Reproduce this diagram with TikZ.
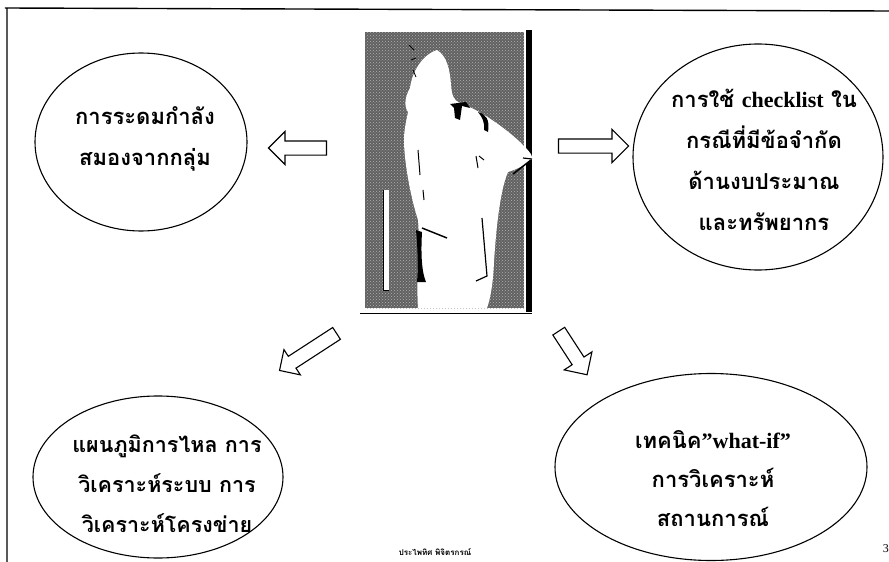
\documentclass[tikz,border=0pt]{standalone}
\usepackage{fontspec}
\setmainfont{Liberation Serif}
\newfontfamily\thaifont[Script=Thai]{Loma}
\newfontfamily\latfont{Liberation Serif}
\usetikzlibrary{shapes.geometric,shapes.arrows,patterns}
\newcommand{\lw}[1]{{\latfont\bfseries #1}}
\begin{document}
\begin{tikzpicture}[x=1pt,y=-1pt,
  bubble/.style={ellipse,draw=black,line width=1.1pt,inner sep=0pt},
  bubbletext/.style={font=\thaifont\bfseries\fontsize{22}{41}\selectfont,align=center,inner sep=0pt},
  hollowarrow/.style={single arrow,draw=black,line width=1.1pt,fill=white,inner sep=0pt,
    text height=6.5pt,text depth=6.5pt,text width=0pt,
    minimum width=32pt,single arrow head extend=9.5pt,single arrow tip angle=90},
  framerule/.style={line width=1.4pt}]
\useasboundingbox (0,0) rectangle (889,562);

% page frame
\coordinate (ftl) at (5,8);
\coordinate (ftr) at (889,11);
\coordinate (fbl) at (7,562);
\draw[framerule] (ftr) -- (ftl) -- (7,8) -- (fbl);

% picture: stippled panel with a standing figure
\fill[black!62] (365,32) rectangle (524,308);
\fill[pattern=crosshatch dots,pattern color=white!70!black] (365,32) rectangle (524,308);
\fill[black] (526,30) rectangle (532,312);
\draw[line width=1pt] (360,313) -- (532,313);
\fill[white] (437,50) .. controls (447,56) and (450,70) .. (451,85)
  .. controls (452,95) and (453,100) .. (460,103)
  .. controls (480,110) and (505,128) .. (520,142)
  .. controls (528,150) and (533,155) .. (532,159)
  .. controls (526,165) and (515,170) .. (508,172)
  .. controls (500,190) and (496,230) .. (494,262)
  .. controls (493,285) and (490,300) .. (487,308)
  -- (418,308)
  .. controls (416,280) and (420,240) .. (418,220)
  .. controls (410,195) and (404,160) .. (404,140)
  .. controls (404,128) and (407,118) .. (408,112)
  .. controls (403,105) and (406,95) .. (410,88)
  .. controls (412,72) and (422,55) .. (437,50) -- cycle;
% figure details
\fill[black] (450,104) -- (466,102) -- (470,108) -- (462,106) -- (460,120) -- (455,118) -- (454,108) -- cycle;
\fill[black] (478,112) .. controls (486,114) and (490,120) .. (488,132) -- (484,130) .. controls (485,122) and (482,117) .. (478,112) -- cycle;
\draw[line width=1.5pt] (513,174) -- (531,160);
\draw[line width=1.2pt] (523,158) -- (532,159);
\draw[line width=1pt] (476,156) -- (478,168);
\draw[line width=1pt] (479,156) -- (484,160);
\fill[black] (416,230) .. controls (418,250) and (418,270) .. (417,282) -- (426,282) .. controls (421,270) and (421,250) .. (422,232) -- cycle;
\draw[line width=1.4pt] (422,228) -- (447,238);
\draw[line width=1.2pt] (482,218) -- (487,276) -- (476,281);
\draw[line width=1pt] (418,150) -- (420,175);
\draw[line width=1pt] (423,190) -- (424,200);
\fill[white] (383,190) rectangle (389,290);
\draw[line width=0.8pt] (383,190) -- (383,290) -- (389,290);
\draw[line width=0.8pt] (409,45) -- (414,50);
\draw[line width=0.8pt] (411,60) -- (416,58);
\draw[line width=0.8pt] (413,70) -- (416,77);

% idea bubbles
\node[bubble,minimum width=212pt,minimum height=178pt] (brain) at (141,142) {};
\node[bubble,minimum width=250pt,minimum height=226pt] (check) at (758,157) {};
\node[bubble,minimum width=250pt,minimum height=162pt] (flow) at (158,477) {};
\node[bubble,minimum width=312pt,minimum height=187pt] (whatif) at (711,467) {};

\node[bubbletext] (brainT) at (145,139) {การระดมกำลัง\\สมองจากกลุ่ม};
\node[bubbletext] (checkT) at (764,160) {การใช้ \lw{checklist} ใน\\กรณีที่มีข้อจำกัด\\ด้านงบประมาณ\\และทรัพยากร};
\node[bubbletext,font=\thaifont\bfseries\fontsize{21.5}{40}\selectfont] (flowT) at (167,484) {แผนภูมิการไหล การ\\วิเคราะห์ระบบ การ\\วิเคราะห์โครงข่าย};
\node[bubbletext,font=\thaifont\bfseries\fontsize{22}{39}\selectfont] (whatifT) at (713,479) {เทคนิค\lw{”what-if”}\\การวิเคราะห์\\สถานการณ์};

% block arrows from the picture to each bubble
\node[hollowarrow,minimum height=58pt,rotate=180] (toBrain) at (301,148) {};
\node[hollowarrow,minimum height=70pt] (toCheck) at (590,146) {};
\node[hollowarrow,minimum height=68pt,minimum width=29pt,single arrow head extend=8pt,rotate=213] (toFlow) at (311,350) {};
\node[hollowarrow,minimum height=52pt,minimum width=31pt,rotate=-57] (toWhatif) at (571,350) {};

% footer
\node[font=\thaifont\bfseries\fontsize{8}{9}\selectfont,inner sep=0pt,anchor=south] (author) at (435,556) {ประไพทิศ  พิจิตรกรณ์};
\node[font=\latfont\fontsize{12}{12}\selectfont,inner sep=0pt,anchor=east] (pageno) at (889,549) {3};
\end{tikzpicture}
\end{document}
